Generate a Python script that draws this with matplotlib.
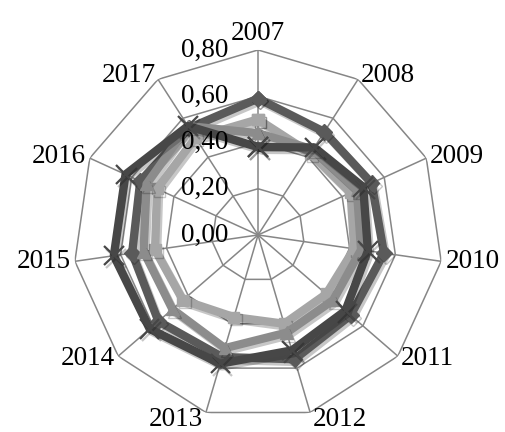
import numpy as np
import matplotlib
matplotlib.use("agg")
import matplotlib.pyplot as plt
import matplotlib.patheffects as pe

# categories (years) around the radar
years = ["2007", "2008", "2009", "2010", "2011", "2012",
         "2013", "2014", "2015", "2016", "2017"]
rticks = [0.0, 0.2, 0.4, 0.6, 0.8]

# four series
s_diamond = [0.59, 0.53, 0.54, 0.55, 0.53, 0.56, 0.55, 0.57, 0.55, 0.56, 0.55]
s_square = [0.50, 0.42, 0.44, 0.42, 0.39, 0.40, 0.37, 0.43, 0.45, 0.48, 0.50]
s_triangle = [0.44, 0.44, 0.47, 0.45, 0.43, 0.44, 0.51, 0.49, 0.50, 0.53, 0.56]
s_cross = [0.38, 0.45, 0.50, 0.48, 0.50, 0.52, 0.58, 0.62, 0.63, 0.63, 0.56]

GRID = "#868686"
FONT = "Liberation Serif"
FS = 19.5

fig = plt.figure(figsize=(5.05, 4.32), dpi=100)
ax = fig.add_axes([0.1446, 0.0278, 0.7327, 0.8565], projection="polar")
ax.set_theta_zero_location("N")
ax.set_theta_direction(-1)
ax.set_ylim(0, 0.8)
ax.set_axis_off()

theta = np.linspace(0, 2 * np.pi, len(years), endpoint=False)
closed = np.append(theta, theta[0])

# polygon grid and spokes
for r in rticks[1:]:
    ax.plot(closed, [r] * len(closed), color=GRID, lw=1.1, zorder=1)
for t in theta:
    ax.plot([t, t], [0, 0.8], color=GRID, lw=1.1, zorder=1)

shadow = [pe.SimpleLineShadow(offset=(1.5, -2), shadow_color="k", alpha=0.22),
          pe.Normal()]

series = [
    (s_diamond, "#5a5a5a", "D", 8, 2),
    (s_square, "#a6a6a6", "s", 8, 3),
    (s_triangle, "#8c8c8c", "^", 9, 4),
    (s_cross, "#474747", "x", 14, 5),
]
for vals, col, mk, ms, z in series:
    v = np.append(vals, vals[0])
    ax.plot(closed, v, color=col, lw=6, marker=mk, ms=ms, mfc=col, mec=col,
            mew=1.6 if mk == "x" else 1, solid_joinstyle="round",
            zorder=z, path_effects=shadow)

# radial tick labels, to the left of the 2007 spoke
for r in rticks:
    ax.annotate(f"{r:.2f}".replace(".", ","), xy=(0, r), xytext=(-21, 0),
                textcoords="offset points", ha="right", va="center",
                fontsize=FS, family=FONT, zorder=10)

# category labels
for t, lab in zip(theta, years):
    s, c = np.sin(t), np.cos(t)
    ha = "center" if abs(s) < 0.1 else ("left" if s > 0 else "right")
    off = (3 * s, 3 * c)
    if c > 0.9:
        va = "bottom"
    elif c < -0.9:
        va = "top"
        off = (2 * np.sign(s), 4)
    else:
        va = "center"
    ax.annotate(lab, xy=(t, 0.8), xytext=off,
                textcoords="offset points", ha=ha, va=va,
                fontsize=FS, family=FONT, annotation_clip=False)

fig.savefig("out.png", dpi=100)
